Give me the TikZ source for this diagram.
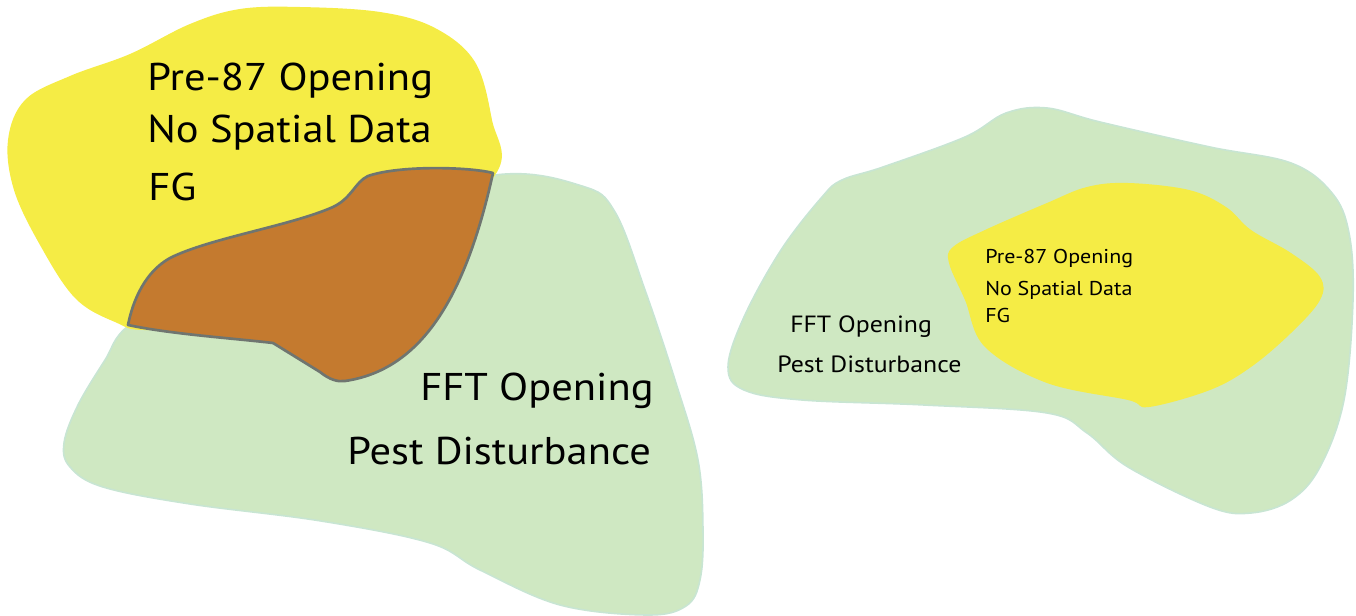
\documentclass[tikz,border=0pt]{standalone}
\usepackage{fontspec}
\setmainfont[FakeStretch=1.1]{PT Sans}
\definecolor{yel}{HTML}{F5EC45}
\definecolor{grn}{HTML}{CFE8C2}
\definecolor{grnedge}{HTML}{C8E5D3}
\definecolor{brn}{HTML}{C47A2F}
\definecolor{brnedge}{HTML}{6F7570}
\begin{document}
\begin{tikzpicture}[x=0.75pt,y=-0.75pt,
  greenblob/.style={fill=grn,draw=grnedge,line width=1.2pt},
  yellowblob/.style={fill=yel},
  overlap/.style={fill=brn,draw=brnedge,line width=2pt,line join=round},
  lbl/.style={anchor=base west,inner sep=0pt,text=black},
  bigA/.style={lbl,font=\fontsize{29}{31}\selectfont},
  bigB/.style={lbl,font=\fontsize{29}{31}\selectfont},
  smallA/.style={lbl,font=\fontsize{15}{17}\selectfont},
  smallB/.style={lbl,font=\fontsize{17.6}{19}\selectfont}]
\useasboundingbox (0,0) rectangle (1356,616);
% left group
\path[greenblob] plot[smooth cycle,tension=0.6] coordinates {
  (495,175) (582,186) (615,212) (645,290) (675,380) (698,460) (703,530)
  (700,580) (686,606) (647,615) (560,605) (480,570) (430,543) (321,521)
  (190,504) (103,487) (70,467) (64,443) (78,405) (105,360) (128,326)
  (200,280) (350,215)};
\path[yellowblob] plot[smooth cycle,tension=0.6] coordinates {
  (497,172) (492,120) (475,62) (435,28) (380,12) (300,7) (240,9)
  (190,24) (130,54) (70,76) (25,100) (8,140) (14,190) (40,245)
  (75,298) (115,322) (150,330) (260,320) (420,240)};
\path[overlap] (128,325) .. controls (170,334) and (230,338) .. (273,343)
  -- (320,372) .. controls (330,380) and (338,382) .. (345,381)
  .. controls (420,370) and (465,300) .. (493,173)
  .. controls (470,167) and (400,165) .. (368,176)
  .. controls (355,182) and (352,198) .. (333,207)
  .. controls (290,226) and (210,238) .. (170,258)
  .. controls (145,272) and (133,300) .. cycle;
\node[bigA] (l1) at (147,91) {Pre-87 Opening};
\node[bigA] (l2) at (147,143) {No Spatial Data};
\node[bigA] (l3) at (148,201) {FG};
\node[bigB] (l4) at (420,401) {FFT Opening};
\node[bigB] (l5) at (347,464) {Pest Disturbance};
% right group
\path[greenblob] plot[smooth cycle,tension=0.6] coordinates {
  (728,367) (744,390) (802,400) (924,405) (1047,413) (1087,433) (1128,467)
  (1210,507) (1251,513) (1291,500) (1320,467) (1344,400) (1353,300)
  (1349,233) (1332,193) (1291,163) (1210,147) (1100,122) (1047,108)
  (1006,113) (965,137) (883,167) (842,180) (822,197) (781,250) (744,317)};
\path[yellowblob] plot[smooth cycle,tension=0.6] coordinates {
  (949,263) (965,300) (985,347) (1047,383) (1128,400) (1149,407) (1210,390)
  (1251,367) (1291,333) (1320,300) (1320,277) (1291,253) (1251,230)
  (1226,207) (1189,190) (1128,183) (1087,187) (1047,203) (985,230) (953,247)};
\node[smallA] (r1) at (985,264) {Pre-87 Opening};
\node[smallA] (r2) at (985,296) {No Spatial Data};
\node[smallA] (r3) at (985,323) {FG};
\node[smallB] (r4) at (790,333) {FFT Opening};
\node[smallB] (r5) at (777,373) {Pest Disturbance};
\end{tikzpicture}
\end{document}
